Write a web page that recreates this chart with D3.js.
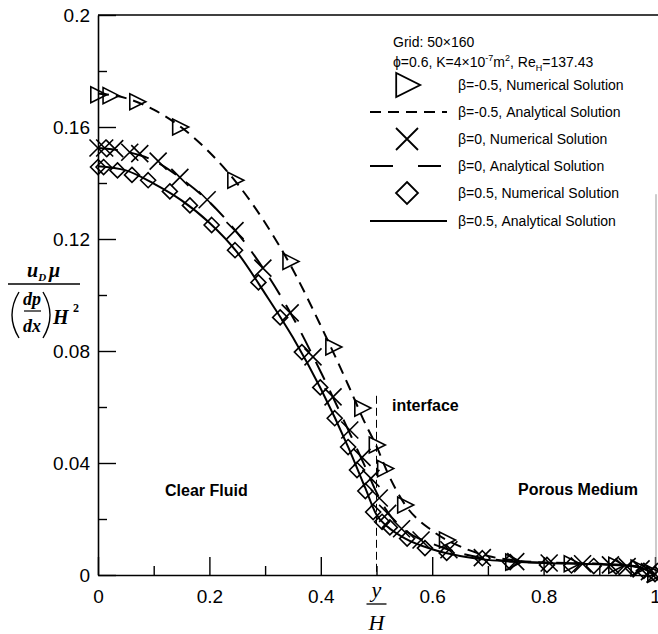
<!DOCTYPE html>
<html>
<head>
<meta charset="utf-8">
<script src="https://cdn.jsdelivr.net/npm/d3@7"></script>
<style>
  body { margin: 0; background: #fff; }
  svg { display: block; }
  .tick text { font-family: "Liberation Sans", Arial, sans-serif; font-size: 19px; }
  .lab { font-family: "Liberation Sans", Arial, sans-serif; font-weight: bold; font-size: 16px; }
  .leg { font-family: "Liberation Sans", Arial, sans-serif; font-size: 14px; }
  .math { font-family: "Liberation Serif", "Times New Roman", serif; font-style: italic; }
</style>
</head>
<body>
<script>
// analytical solutions
const curveX = [0, 0.05, 0.1, 0.15, 0.2, 0.25, 0.3, 0.35, 0.4, 0.45, 0.48, 0.5, 0.52, 0.55, 0.6, 0.65, 0.7, 0.75, 0.8, 0.9, 0.95, 0.98, 1]
const anaNeg = [0.172, 0.1703, 0.1662, 0.1598, 0.151, 0.1398, 0.1258, 0.109, 0.089, 0.0675, 0.054, 0.046, 0.0365, 0.0255, 0.0158, 0.0102, 0.0068, 0.0052, 0.0045, 0.004, 0.0035, 0.0023, 0]
const anaZero = [0.1525, 0.1512, 0.148, 0.1415, 0.1332, 0.1222, 0.1085, 0.092, 0.0725, 0.0515, 0.0385, 0.0295, 0.0225, 0.0162, 0.0112, 0.0078, 0.0058, 0.0048, 0.0044, 0.0039, 0.0034, 0.0022, 0]
const anaPos = [0.146, 0.1445, 0.1398, 0.1338, 0.1258, 0.1152, 0.1005, 0.0848, 0.0665, 0.0453, 0.031, 0.0215, 0.0172, 0.0132, 0.0092, 0.0068, 0.0054, 0.0047, 0.0043, 0.0038, 0.0033, 0.0022, 0]

// numerical solutions
const numNegX = [0, 0.022, 0.07, 0.147, 0.246, 0.345, 0.422, 0.474, 0.5, 0.515, 0.551, 0.626, 0.745, 0.85, 0.93, 0.97, 1]
const numNegY = [0.1715, 0.1712, 0.169, 0.160, 0.141, 0.112, 0.0814, 0.0596, 0.0464, 0.038, 0.025, 0.0125, 0.0046, 0.004, 0.0035, 0.0025, 0.0003]
const numZeroX = [0, 0.012, 0.03, 0.057, 0.075, 0.108, 0.147, 0.196, 0.246, 0.296, 0.345, 0.386, 0.422, 0.452, 0.474, 0.49, 0.505, 0.52, 0.545, 0.58, 0.63, 0.69, 0.75, 0.81, 0.87, 0.92, 0.95, 0.975, 0.99, 1]
const numZeroY = [0.1525, 0.1525, 0.1523, 0.151, 0.1505, 0.1478, 0.142, 0.134, 0.123, 0.1096, 0.0936, 0.0779, 0.0636, 0.0518, 0.042, 0.0345, 0.0275, 0.022, 0.0165, 0.0125, 0.009, 0.0062, 0.0048, 0.0043, 0.004, 0.0036, 0.003, 0.0022, 0.0012, 0.0003]
const numPosX = [0, 0.01, 0.035, 0.061, 0.09, 0.129, 0.165, 0.204, 0.246, 0.288, 0.327, 0.366, 0.399, 0.425, 0.449, 0.465, 0.48, 0.494, 0.51, 0.524, 0.555, 0.587, 0.626, 0.69, 0.74, 0.806, 0.85, 0.89, 0.93, 0.96, 0.98, 1]
const numPosY = [0.1457, 0.1457, 0.1445, 0.1429, 0.141, 0.137, 0.132, 0.125, 0.116, 0.1045, 0.092, 0.0796, 0.067, 0.056, 0.0457, 0.0375, 0.030, 0.0225, 0.019, 0.017, 0.013, 0.0096, 0.0079, 0.006, 0.0046, 0.0036, 0.0034, 0.0032, 0.003, 0.0025, 0.0015, 0.0003]

const xMajor = [0, 0.2, 0.4, 0.6, 0.8, 1]
const xMinor = [0.1, 0.3, 0.5, 0.7, 0.9]
const yMajor = [0, 0.04, 0.08, 0.12, 0.16, 0.2]
const yMinor = [0.02, 0.06, 0.1, 0.14, 0.18]
const legendLabels = ['β=-0.5, Numerical Solution', 'β=-0.5, Analytical Solution', 'β=0, Numerical Solution',
  'β=0, Analytical Solution', 'β=0.5, Numerical Solution', 'β=0.5, Analytical Solution']

const width = 658
const height = 634
const margin = {top: 15, left: 98, right: 3, bottom: 59}

const svg = d3.select('body').append('svg')
  .attr('width', width)
  .attr('height', height)

const x = d3.scaleLinear().domain([0, 1]).range([margin.left, width - margin.right])
const y = d3.scaleLinear().domain([0, 0.2]).range([height - margin.bottom, margin.top])

// axes (ticks point inward)
svg.append('g')
  .attr('transform', `translate(0,${y(0)})`)
  .call(d3.axisBottom(x).tickValues(xMajor).tickFormat(d => d === 0 || d === 1 ? d : d.toFixed(1))
    .tickSizeInner(-18).tickSizeOuter(0).tickPadding(14.5))
svg.append('g')
  .attr('transform', `translate(0,${y(0)})`)
  .call(d3.axisBottom(x).tickValues(xMinor).tickFormat('').tickSizeInner(-9).tickSizeOuter(0))
  .call(g => g.select('.domain').remove())

svg.append('g')
  .attr('transform', `translate(${x(0)},0)`)
  .call(d3.axisLeft(y).tickValues(yMajor).tickFormat(d => d === 0 ? '0' : (d === 0.2 ? '0.2' : d.toFixed(2)))
    .tickSizeInner(-18).tickSizeOuter(0).tickPadding(8))
svg.append('g')
  .attr('transform', `translate(${x(0)},0)`)
  .call(d3.axisLeft(y).tickValues(yMinor).tickFormat('').tickSizeInner(-9).tickSizeOuter(0))
  .call(g => g.select('.domain').remove())

svg.selectAll('.domain').attr('stroke-width', 1.6)
svg.selectAll('.tick line').attr('stroke-width', 1.4)
svg.selectAll('.tick text').attr('fill', '#000')

// top and right frame
svg.append('line')
  .attr('x1', x(0)).attr('x2', width).attr('y1', y(0.2)).attr('y2', y(0.2))
  .attr('stroke', '#000').attr('stroke-width', 1.4)
svg.append('line')
  .attr('x1', x(1) + 1).attr('x2', x(1) + 1).attr('y1', y(0.136)).attr('y2', y(0))
  .attr('stroke', '#999').attr('stroke-width', 1)

// interface line
svg.append('line')
  .attr('x1', x(0.5)).attr('x2', x(0.5)).attr('y1', y(0.064)).attr('y2', y(0))
  .attr('stroke', '#000').attr('stroke-width', 1).attr('stroke-dasharray', '8,4')

const line = d3.line()
  .x(d => x(d[0]))
  .y(d => y(d[1]))
  .curve(d3.curveMonotoneX)

const curves = [
  {vals: anaNeg, dash: '11,7'},
  {vals: anaZero, dash: '20,12'},
  {vals: anaPos, dash: null}
]
curves.forEach(c => {
  svg.append('path')
    .datum(curveX.map((v, i) => [v, c.vals[i]]))
    .attr('d', line)
    .attr('fill', 'none')
    .attr('stroke', '#000')
    .attr('stroke-width', 2)
    .attr('stroke-dasharray', c.dash)
})

// marker shapes
function triangle(s) {
  return `M${-0.45 * s},${-0.5 * s}L${-0.45 * s},${0.5 * s}L${0.55 * s},0Z`
}
function cross(s) {
  const h = s / 2
  return `M${-h},${-h}L${h},${h}M${-h},${h}L${h},${-h}`
}
function diamond(s) {
  const h = s / 2
  return `M0,${-h}L${h},0L0,${h}L${-h},0Z`
}

function drawMarkers(xs, ys, shape, size) {
  svg.append('g').selectAll('path')
    .data(xs.map((v, i) => [v, ys[i]]))
    .enter()
    .append('path')
    .attr('transform', d => `translate(${x(d[0])},${y(d[1])})`)
    .attr('d', shape(size))
    .attr('fill', 'none')
    .attr('stroke', '#000')
    .attr('stroke-width', 1.6)
}
drawMarkers(numPosX, numPosY, diamond, 15)
drawMarkers(numZeroX, numZeroY, cross, 17)
drawMarkers(numNegX, numNegY, triangle, 16)

// region labels
svg.append('text').attr('class', 'lab').attr('x', 165).attr('y', 496).text('Clear Fluid')
svg.append('text').attr('class', 'lab').attr('x', 518).attr('y', 495).text('Porous Medium')
svg.append('text').attr('class', 'lab').attr('x', 392).attr('y', 411).text('interface')

// legend
svg.append('text').attr('class', 'leg').attr('x', 393).attr('y', 47).text('Grid: 50×160')
const h2 = svg.append('text').attr('class', 'leg').attr('x', 393).attr('y', 67)
h2.append('tspan').text('ϕ=0.6, K=4×10')
h2.append('tspan').attr('dy', -6).attr('font-size', 9).text('-7')
h2.append('tspan').attr('dy', 6).text('m')
h2.append('tspan').attr('dy', -6).attr('font-size', 9).text('2')
h2.append('tspan').attr('dy', 6).text(', Re')
h2.append('tspan').attr('dy', 4).attr('font-size', 9).text('H')
h2.append('tspan').attr('dy', -4).text('=137.43')

const rowY = [85, 112, 139, 166, 193, 221]
const leg = svg.append('g')
leg.selectAll('text')
  .data(legendLabels)
  .enter()
  .append('text')
  .attr('class', 'leg')
  .attr('x', 458)
  .attr('y', (d, i) => rowY[i] + 5)
  .text(d => d)

leg.append('path').attr('transform', `translate(407,${rowY[0]})`).attr('d', triangle(24))
  .attr('fill', 'none').attr('stroke', '#000').attr('stroke-width', 1.8)
leg.append('path').attr('transform', `translate(407,${rowY[2]})`).attr('d', cross(22))
  .attr('fill', 'none').attr('stroke', '#000').attr('stroke-width', 1.8)
leg.append('path').attr('transform', `translate(407,${rowY[4]})`).attr('d', diamond(22))
  .attr('fill', 'none').attr('stroke', '#000').attr('stroke-width', 1.8)
const legLines = [[rowY[1], '11,7'], [rowY[3], '23,25'], [rowY[5], null]]
legLines.forEach(l => {
  leg.append('line')
    .attr('x1', 370).attr('x2', 447).attr('y1', l[0]).attr('y2', l[0])
    .attr('stroke', '#000').attr('stroke-width', 2).attr('stroke-dasharray', l[1])
})

// y axis label: u_D mu / ((dp/dx) H^2)
const yl = svg.append('g').attr('class', 'math').attr('font-weight', 'bold')
const num = yl.append('text').attr('x', 27).attr('y', 277).attr('font-size', 20)
num.append('tspan').text('u')
num.append('tspan').attr('dy', 4).attr('font-size', 11).text('D')
num.append('tspan').attr('dy', -4).attr('dx', 3).text('μ')
yl.append('line').attr('x1', 8).attr('x2', 80).attr('y1', 284).attr('y2', 284)
  .attr('stroke', '#000').attr('stroke-width', 1.3)
// parentheses drawn as thin arcs
yl.append('path').attr('d', 'M19,292Q5,315 19,338').attr('fill', 'none').attr('stroke', '#000').attr('stroke-width', 1.4)
yl.append('path').attr('d', 'M43,292Q57,315 43,338').attr('fill', 'none').attr('stroke', '#000').attr('stroke-width', 1.4)
yl.append('text').attr('x', 32).attr('y', 305).attr('font-size', 18).attr('text-anchor', 'middle').text('dp')
yl.append('line').attr('x1', 24).attr('x2', 41).attr('y1', 311).attr('y2', 311)
  .attr('stroke', '#000').attr('stroke-width', 1.2)
yl.append('text').attr('x', 32).attr('y', 332).attr('font-size', 18).attr('text-anchor', 'middle').text('dx')
yl.append('text').attr('x', 53).attr('y', 324).attr('font-size', 20).text('H')
yl.append('text').attr('x', 73).attr('y', 312).attr('font-size', 12).attr('font-style', 'normal').text('2')

// x axis label y/H
const xl = svg.append('g').attr('class', 'math')
xl.append('text').attr('x', x(0.5)).attr('y', 597).attr('font-size', 22).attr('text-anchor', 'middle').text('y')
xl.append('line').attr('x1', x(0.5) - 10).attr('x2', x(0.5) + 10).attr('y1', 604).attr('y2', 604)
  .attr('stroke', '#000').attr('stroke-width', 1.3)
xl.append('text').attr('x', x(0.5)).attr('y', 630).attr('font-size', 22).attr('text-anchor', 'middle').text('H')

// panel caption, mostly cut off
svg.append('text').attr('x', 319).attr('y', 648).attr('font-size', 18).attr('text-anchor', 'middle')
  .attr('font-family', '"Liberation Serif", serif').text('(a)')
</script>
</body>
</html>
